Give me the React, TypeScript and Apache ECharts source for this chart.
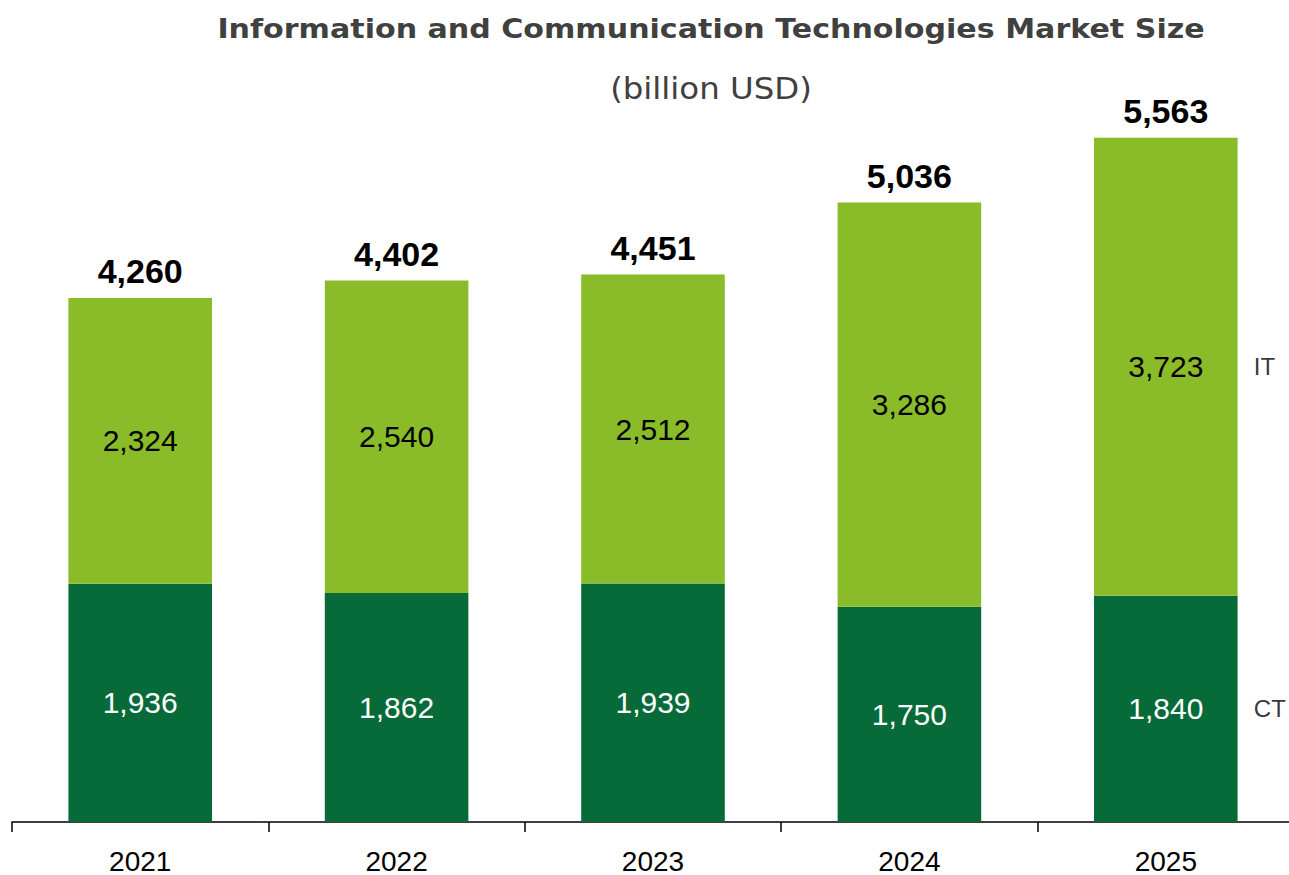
import React, { useEffect, useRef } from "react";
import * as echarts from "echarts";

const years = ["2021", "2022", "2023", "2024", "2025"];
const ctValues = [1936, 1862, 1939, 1750, 1840];
const itValues = [2324, 2540, 2512, 3286, 3723];
const totals = [4260, 4402, 4451, 5036, 5563];
const seriesNames = ["CT", "IT"];

const titleText = "Information and Communication Technologies Market Size";
const subtitleText = "(billion USD)";

const fmt = (v: number) => v.toLocaleString("en-US");

export default function App() {
  const ref = useRef<HTMLDivElement>(null);
  useEffect(() => {
    if (!ref.current) return;
    const chart = echarts.init(ref.current, null, { renderer: "svg" });
    const last = years.length - 1;
    chart.setOption({
      animation: false,
      backgroundColor: "#ffffff",
      grid: { left: 12, width: 1282, top: 84, bottom: 53, containLabel: false },
      graphic: [
        {
          type: "text",
          x: 711,
          y: 29,
          scaleX: 1.115,
          style: {
            text: titleText,
            fill: "#404040",
            font: "bold 27px 'DejaVu Sans'",
            textAlign: "center",
            textVerticalAlign: "middle",
          },
        },
        {
          type: "text",
          x: 711,
          y: 88,
          scaleX: 1.08,
          style: {
            text: subtitleText,
            fill: "#404040",
            font: "30px 'DejaVu Sans'",
            textAlign: "center",
            textVerticalAlign: "middle",
          },
        },
      ],
      xAxis: {
        type: "category",
        data: years,
        axisLine: { lineStyle: { color: "#000000", width: 1.5 } },
        axisTick: { show: true, length: 10, lineStyle: { color: "#000000", width: 1.5 } },
        axisLabel: {
          color: "#000000",
          fontSize: 28,
          lineHeight: 28,
          fontFamily: "Liberation Sans",
          margin: 25,
        },
      },
      yAxis: {
        type: "value",
        min: 0,
        max: 6000,
        show: false,
        splitLine: { show: false },
      },
      series: [
        {
          name: seriesNames[0],
          type: "bar",
          stack: "total",
          barWidth: "56%",
          data: ctValues,
          itemStyle: { color: "#066b38" },
          label: {
            show: true,
            position: "inside",
            color: "#ffffff",
            fontSize: 30,
            fontFamily: "Liberation Sans",
            formatter: (p: any) => fmt(p.value),
          },
        },
        {
          name: seriesNames[1],
          type: "bar",
          stack: "total",
          data: itValues,
          itemStyle: { color: "#8abc29" },
          label: {
            show: true,
            position: "inside",
            color: "#000000",
            fontSize: 30,
            fontFamily: "Liberation Sans",
            formatter: (p: any) => fmt(p.value),
          },
        },
        {
          name: "Total",
          type: "bar",
          stack: "total",
          data: totals.map(() => 0),
          itemStyle: { color: "transparent" },
          label: {
            show: true,
            position: "top",
            distance: 10,
            color: "#000000",
            fontSize: 34,
            fontWeight: "bold",
            fontFamily: "Liberation Sans",
            formatter: (p: any) => fmt(totals[p.dataIndex]),
          },
        },
        {
          name: "SeriesTags",
          type: "scatter",
          symbolSize: 0,
          silent: true,
          data: [
            { value: [years[last], ctValues[last] / 2], name: seriesNames[0] },
            { value: [years[last], ctValues[last] + itValues[last] / 2], name: seriesNames[1] },
          ],
          label: {
            show: true,
            position: "right",
            distance: 88,
            color: "#000000",
            fontSize: 24,
            fontFamily: "Liberation Sans",
            formatter: (p: any) => p.name,
          },
        },
      ],
    });
    return () => chart.dispose();
  }, []);
  return (
    <div
      style={{
        position: "fixed",
        left: 0,
        top: 0,
        width: 1289,
        height: 875,
        overflow: "hidden",
        background: "#ffffff",
      }}
    >
      <div ref={ref} style={{ width: 1300, height: 875 }} />
    </div>
  );
}
